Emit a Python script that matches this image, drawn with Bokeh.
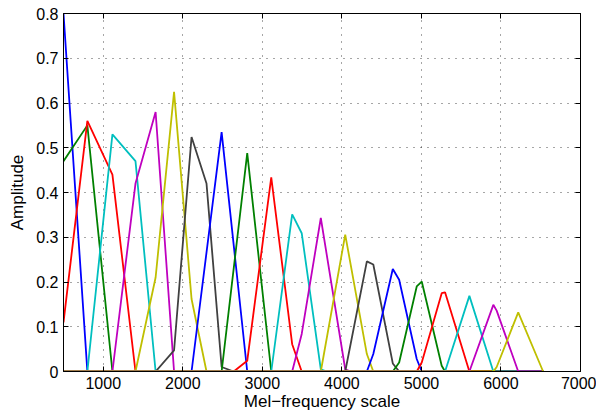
from bokeh.plotting import figure
from bokeh.models import Range1d, LinearAxis, FixedTicker
from bokeh.embed import file_html
from bokeh.resources import INLINE

# Filter vertices (mel-frequency, amplitude)
f01_x = [500, 800, 6530];               f01_y = [0.80, 0.0, 0.0]
f02_x = [500, 800, 1115, 6530];         f02_y = [0.47, 0.55, 0.0, 0.0]
f03_x = [500, 800, 1115, 1405, 6530];   f03_y = [0.11, 0.56, 0.44, 0.0, 0.0]
f04_x = [500, 800, 1115, 1405, 1658, 6530]; f04_y = [0.0, 0.0, 0.53, 0.47, 0.0, 0.0]
f05_x = [500, 1115, 1405, 1658, 1890, 6530]; f05_y = [0.0, 0.0, 0.42, 0.58, 0.0, 0.0]
f06_x = [500, 1405, 1658, 1890, 2110, 2298, 6530]; f06_y = [0.0, 0.0, 0.21, 0.625, 0.162, 0.0, 0.0]
f07_x = [500, 1658, 1890, 2110, 2298, 2488, 2640, 6530]; f07_y = [0.0, 0.0, 0.047, 0.524, 0.42, 0.01, 0.0, 0.0]
f08_x = [500, 2110, 2488, 2810, 6530];  f08_y = [0.0, 0.0, 0.535, 0.0, 0.0]
f09_x = [500, 2488, 2810, 3112, 6530];  f09_y = [0.0, 0.0, 0.488, 0.0, 0.0]
f10_x = [500, 2640, 2810, 3112, 3375, 3495, 6530]; f10_y = [0.0, 0.0, 0.024, 0.434, 0.061, 0.0, 0.0]
f11_x = [500, 3112, 3375, 3495, 3735, 3810, 6530]; f11_y = [0.0, 0.0, 0.351, 0.309, 0.005, 0.0, 0.0]
f12_x = [500, 3375, 3495, 3735, 4042, 4110, 6530]; f12_y = [0.0, 0.0, 0.084, 0.343, 0.005, 0.0, 0.0]
f13_x = [500, 3735, 4042, 4314, 4395, 6530]; f13_y = [0.0, 0.0, 0.306, 0.039, 0.0, 0.0]
f14_x = [500, 4042, 4314, 4395, 4640, 4720, 6530]; f14_y = [0.0, 0.0, 0.246, 0.239, 0.018, 0.0, 0.0]
f15_x = [500, 4314, 4395, 4640, 4720, 4941, 5004, 6530]; f15_y = [0.0, 0.0, 0.039, 0.229, 0.205, 0.028, 0.0, 0.0]
f16_x = [500, 4640, 4720, 4941, 5004, 5255, 5297, 6530]; f16_y = [0.0, 0.0, 0.02, 0.19, 0.201, 0.013, 0.0, 0.0]
f17_x = [500, 4941, 5004, 5255, 5297, 5603, 6530]; f17_y = [0.0, 0.0, 0.02, 0.175, 0.177, 0.0, 0.0]
f18_x = [500, 5297, 5603, 5904, 6530];  f18_y = [0.0, 0.0, 0.169, 0.0, 0.0]
f19_x = [500, 5603, 5904, 5946, 6217, 6530]; f19_y = [0.0, 0.0, 0.149, 0.136, 0.0, 0.0]
f20_x = [500, 5904, 5946, 6217, 6530];  f20_y = [0.0, 0.0, 0.01, 0.132, 0.0]

filters_x = [f01_x, f02_x, f03_x, f04_x, f05_x, f06_x, f07_x, f08_x, f09_x, f10_x,
             f11_x, f12_x, f13_x, f14_x, f15_x, f16_x, f17_x, f18_x, f19_x, f20_x]
filters_y = [f01_y, f02_y, f03_y, f04_y, f05_y, f06_y, f07_y, f08_y, f09_y, f10_y,
             f11_y, f12_y, f13_y, f14_y, f15_y, f16_y, f17_y, f18_y, f19_y, f20_y]

x_ticks = [1000, 2000, 3000, 4000, 5000, 6000, 7000]
x_tick_labels = ["1000", "2000", "3000", "4000", "5000", "6000", "7000"]
y_ticks = [0, 0.1, 0.2, 0.3, 0.4, 0.5, 0.6, 0.7, 0.8]
y_tick_labels = ["0", "0.1", "0.2", "0.3", "0.4", "0.5", "0.6", "0.7", "0.8"]

color_cycle = ["#0000ff", "#008000", "#ff0000", "#00bfbf", "#bf00bf", "#bfbf00", "#404040"]

FONT = "Liberation Sans"

p = figure(width=596, height=414, output_backend="svg", toolbar_location=None,
           x_range=Range1d(500, 7000), y_range=Range1d(0, 0.8),
           min_border_left=63, min_border_right=16, min_border_top=13, min_border_bottom=43)
p.background_fill_color = "white"
p.border_fill_color = "white"
p.outline_line_color = "black"
p.outline_line_width = 1

for i, (xs, ys) in enumerate(zip(filters_x, filters_y)):
    p.line(xs, ys, line_color=color_cycle[i % len(color_cycle)], line_width=1.8)

xt = FixedTicker(ticks=x_ticks)
yt = FixedTicker(ticks=y_ticks)

def style_axis(ax, ticker):
    ax.ticker = ticker
    ax.major_tick_in = 5
    ax.major_tick_out = 0
    ax.minor_tick_line_color = None
    ax.axis_line_color = "black"
    ax.major_tick_line_color = "black"
    ax.major_label_text_font = FONT
    ax.major_label_text_font_size = "16px"
    ax.major_label_text_color = "black"
    ax.axis_label_text_font = FONT
    ax.axis_label_text_font_size = "17px"
    ax.axis_label_text_font_style = "normal"
    ax.axis_label_text_color = "black"

style_axis(p.xaxis[0], xt)
style_axis(p.yaxis[0], yt)
p.xaxis[0].major_label_overrides = {t: l for t, l in zip(x_ticks, x_tick_labels)}
p.yaxis[0].major_label_overrides = {t: l for t, l in zip(y_ticks, y_tick_labels)}
p.xaxis[0].axis_label = "Mel\u2212frequency scale"
p.yaxis[0].axis_label = "Amplitude"
p.xaxis[0].major_label_standoff = 5
p.xaxis[0].axis_label_standoff = 0
p.yaxis[0].major_label_standoff = 5
p.yaxis[0].axis_label_standoff = 6

top = LinearAxis()
style_axis(top, FixedTicker(ticks=x_ticks))
top.major_label_overrides = {t: "" for t in x_ticks}
top.major_label_standoff = 0
p.add_layout(top, "above")
right = LinearAxis()
style_axis(right, FixedTicker(ticks=y_ticks))
right.major_label_overrides = {t: "" for t in y_ticks}
right.major_label_standoff = 0
p.add_layout(right, "right")

for g, t in ((p.xgrid[0], xt), (p.ygrid[0], yt)):
    g.ticker = t
    g.grid_line_color = "black"
    g.grid_line_alpha = 0.7
    g.grid_line_dash = "1 6"
    g.grid_line_width = 1

open("out.html", "w").write(file_html(p, INLINE))
